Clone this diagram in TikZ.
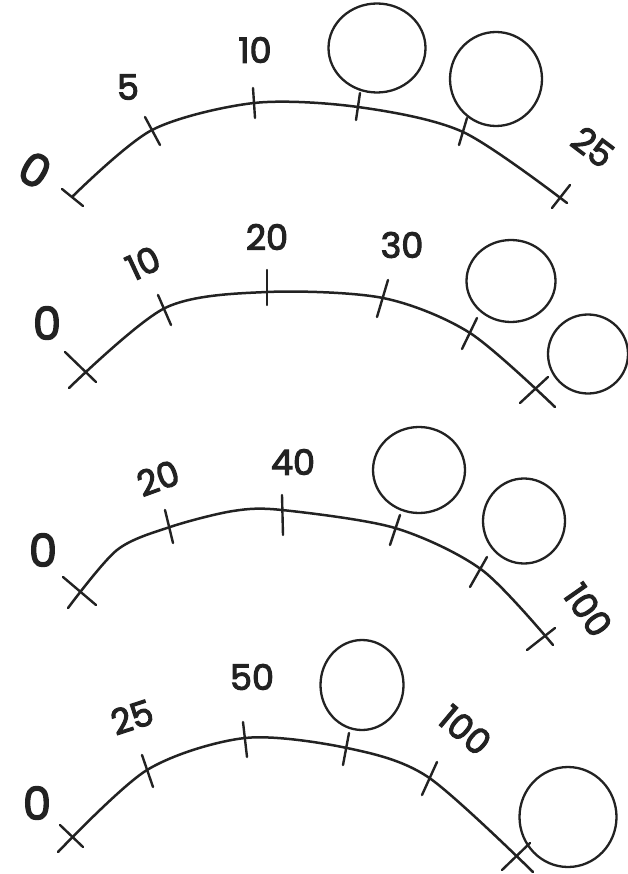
\documentclass[tikz,border=0pt]{standalone}
\usepackage{fontspec}
\newfontfamily\handfont{Poppins}[FakeBold=3]
\usetikzlibrary{shapes.geometric}
\definecolor{pencil}{HTML}{222222}
\begin{document}
\begin{tikzpicture}[x=1pt,y=-1pt,
  ink/.style={draw=pencil, line width=2.5pt, line cap=round, line join=round},
  tk/.style={draw=pencil, line width=2.4pt, line cap=round},
  ring/.style={draw=pencil, line width=2.3pt, ellipse, inner sep=0pt},
  lbl/.style={font=\handfont\fontsize{35}{35}\selectfont, text=pencil, inner sep=0pt},
  zero/.style={font=\handfont\fontsize{45}{45}\selectfont, text=pencil, inner sep=0pt}]
\fill[white] (0,0) rectangle (628,874);
\useasboundingbox (0,0) rectangle (628,874);

% ---------- panel 1 ----------
\draw[ink] plot[smooth, tension=0.5] coordinates {(73,196) (152,130) (254,103) (358,107) (463,132) (567,203)};
\draw[tk] (62,189) -- (83,206);
\draw[tk] (145,117) -- (160,145);
\draw[tk] (253,88) -- (255,118);
\draw[tk] (360,93) -- (356,120);
\draw[tk] (467,118) -- (459,145);
\draw[tk] (552,208) -- (570,185);
\node[zero, rotate=-30] (p1l0) at (35,170) {0};
\node[lbl] (p1l5) at (128,87) {5};
\node[lbl] (p1l10) at (255,50) {10};
\node[lbl, rotate=-37] (p1l25) at (593,147) {25};
\node[ring, minimum width=97pt, minimum height=89pt] (p1c1) at (377,48) {};
\node[ring, minimum width=92pt, minimum height=94pt] (p1c2) at (496,79) {};

% ---------- panel 2 ----------
\draw[ink] plot[smooth, tension=0.5] coordinates {(69,388) (165,308) (267,292) (383,298) (470,333) (555,407)};
\draw[tk] (65,352) -- (96,382);
\draw[tk] (158,295) -- (171,325);
\draw[tk] (267,270) -- (267,305);
\draw[tk] (388,280) -- (377,317);
\draw[tk] (477,318) -- (462,349);
\draw[tk] (520,403) -- (548,377);
\node[zero] (p2l0) at (47,323) {0};
\node[lbl, rotate=25] (p2l10) at (143,263) {10};
\node[lbl] (p2l20) at (267,237) {20};
\node[lbl] (p2l30) at (402,245) {30};
\node[ring, minimum width=89pt, minimum height=82pt] (p2c1) at (511,281) {};
\node[ring, minimum width=80pt, minimum height=79pt] (p2c2) at (588,354) {};

% ---------- panel 3 ----------
\draw[ink] plot[smooth, tension=0.5] coordinates {(68,608) (117,550) (170,527) (233,511) (282,510) (395,528) (482,570) (553,645)};
\draw[tk] (63,577) -- (96,605);
\draw[tk] (165,510) -- (173,543);
\draw[tk] (282,495) -- (283,535);
\draw[tk] (400,515) -- (390,545);
\draw[tk] (487,557) -- (470,587);
\draw[tk] (527,650) -- (555,628);
\node[zero] (p3l0) at (43,550) {0};
\node[lbl, rotate=20] (p3l20) at (158,478) {20};
\node[lbl] (p3l40) at (293,462) {40};
\node[lbl, rotate=-55] (p3l100) at (588,610) {100};
\node[ring, minimum width=92pt, minimum height=86pt] (p3c1) at (419,470) {};
\node[ring, minimum width=82pt, minimum height=85pt] (p3c2) at (524,521) {};

% ---------- panel 4 ----------
\draw[ink] plot[smooth, tension=0.5] coordinates {(58,852) (147,770) (245,738) (347,748) (428,777) (533,872)};
\draw[tk] (60,825) -- (83,847);
\draw[tk] (142,755) -- (153,787);
\draw[tk] (243,722) -- (247,757);
\draw[tk] (349,733) -- (343,765);
\draw[tk] (437,762) -- (422,795);
\draw[tk] (502,870) -- (530,843);
\node[zero] (p4l0) at (37,803) {0};
\node[lbl, rotate=18] (p4l25) at (132,717) {25};
\node[lbl] (p4l50) at (252,677) {50};
\node[lbl, rotate=-40] (p4l100) at (465,730) {100};
\node[ring, minimum width=83pt, minimum height=90pt] (p4c1) at (362,685) {};
\node[ring, minimum width=97pt, minimum height=100pt] (p4c2) at (568,817) {};
\end{tikzpicture}
\end{document}
